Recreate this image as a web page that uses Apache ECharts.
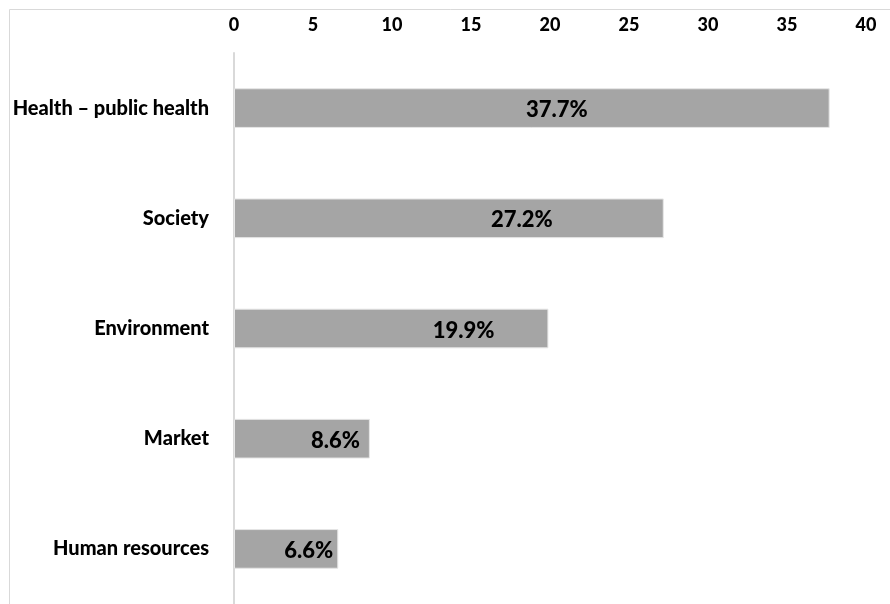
<!DOCTYPE html>
<html>
<head>
<meta charset="utf-8">
<script src="https://cdn.jsdelivr.net/npm/echarts@6/dist/echarts.min.js"></script>
<style>
html,body{margin:0;padding:0;background:#fff;}
#chart{width:890px;height:604px;}
</style>
</head>
<body>
<div id="chart"></div>
<script>
const categories = ['Health – public health', 'Society', 'Environment', 'Market', 'Human resources'];
const shares = [37.7, 27.2, 19.9, 8.6, 6.6];
const xTicks = [0, 5, 10, 15, 20, 25, 30, 35, 40];

// label placement tweaks (style only)
const labelShift = [-237, -106, -49, -5, 0];

const FONT = 'Lato, "Noto Sans", sans-serif';
const chart = echarts.init(document.getElementById('chart'), null, {renderer: 'canvas'});
chart.setOption({
  animation: false,
  backgroundColor: '#fff',
  graphic: [{
    type: 'rect',
    shape: {x: 9.5, y: 9.5, width: 1000, height: 1000},
    style: {fill: 'none', stroke: '#d9d9d9', lineWidth: 1},
    silent: true
  }],
  grid: {left: 234, right: 24, top: 53, height: 555, containLabel: false},
  xAxis: {
    type: 'value',
    position: 'top',
    min: xTicks[0],
    max: xTicks[xTicks.length - 1],
    interval: xTicks[1] - xTicks[0],
    axisLine: {show: false},
    axisTick: {show: false},
    splitLine: {show: false},
    axisLabel: {
      margin: 19,
      fontFamily: FONT,
      fontWeight: 900,
      fontSize: 18,
      color: '#000'
    }
  },
  yAxis: {
    type: 'category',
    inverse: true,
    data: categories,
    axisLine: {show: true, lineStyle: {color: '#d9d9d9', width: 2}},
    axisTick: {show: false},
    axisLabel: {
      margin: 25,
      fontFamily: FONT,
      fontWeight: 900,
      fontSize: 20,
      color: '#000'
    }
  },
  series: [{
    type: 'bar',
    barCategoryGap: '64%',
    data: shares.map((v, i) => ({
      value: v,
      label: {offset: [labelShift[i], 2]}
    })),
    itemStyle: {color: '#a5a5a5', borderColor: '#e6e6e6', borderWidth: 1},
    label: {
      show: true,
      position: 'insideRight',
      formatter: p => p.value.toFixed(1) + '%',
      fontFamily: FONT,
      fontWeight: 900,
      fontSize: 22,
      color: '#000'
    }
  }]
});
</script>
</body>
</html>
